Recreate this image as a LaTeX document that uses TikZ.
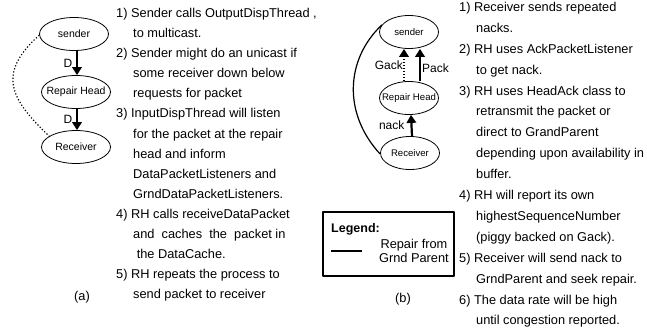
\documentclass[tikz,border=0pt]{standalone}
\usepackage{fontspec}
\setmainfont{Liberation Sans}
\usetikzlibrary{shapes.geometric,arrows.meta,positioning}
\tikzset{>={Triangle[length=8pt,width=9.5pt]}}
\tikzset{
  actor/.style={draw,ellipse,line width=0.8pt,minimum width=69pt,minimum height=33pt,inner sep=0pt,font=\fontsize{10.5}{12}\selectfont},
  smallactor/.style={actor,minimum width=59pt,font=\fontsize{9.6}{11}\selectfont},
  msg/.style={->,line width=2.2pt},
  grnd/.style={line width=1.2pt},
  msglbl/.style={font=\fontsize{12}{14}\selectfont,inner sep=0pt},
  notes/.style={anchor=north west,align=left,inner sep=0pt},
}
\newcommand{\ind}{\hspace*{17pt}}

\begin{document}
\begin{tikzpicture}[line join=round,x=1pt,y=-1pt]
\useasboundingbox (0,0) rectangle (647,332);
% (a) data path
\node[actor] (snda) at (74,34) {\makebox[0pt]{sender}};
\node[actor] (rha) at (76,92) {\makebox[0pt]{Repair Head}};
\node[actor] (rcva) at (76,147) {\makebox[0pt]{Receiver}};
\draw[msg] ([xshift=3pt]snda.south) -- ([xshift=1pt]rha.north) node[msglbl,midway,left=3.5pt] {D};
\draw[msg] ([xshift=1pt]rha.south) -- ([xshift=1pt]rcva.north) node[msglbl,midway,left=3.5pt] {D};
\draw[grnd,dotted] (snda.182) .. controls +(-42,38) and +(-40,-38) .. (rcva.158);
\node[notes,font=\fontsize{12.8}{20.1}\selectfont] (stepsa) at (116,8) {1) Sender calls OutputDispThread ,\\
\ind to multicast.\\
2) Sender might do an unicast if\\
\ind some receiver down below\\
\ind requests for packet\\
3) InputDispThread will listen\\
\ind for the packet at the repair\\
\ind head and inform\\
\ind DataPacketListeners and\\
\ind GrndDataPacketListeners.\\
4) RH calls receiveDataPacket\\
\ind and\ \ caches\ \ the\ \ packet in\\
\ind\ the DataCache.\\
5) RH repeats the process to\\
\ind send packet to receiver};
\node[font=\fontsize{12.8}{14}\selectfont] (capa) at (82,297) {(a)};

% (b) repair path
\node[smallactor] (sndb) at (409,32) {\makebox[0pt]{sender}};
\node[smallactor] (rhb) at (409,98) {\makebox[0pt]{Repair Head}};
\node[smallactor] (rcvb) at (410,153) {\makebox[0pt]{Receiver}};
\draw[msg,line cap=butt,dash pattern=on 1.5pt off 1.5pt] ([xshift=-5pt]rhb.north) -- ([xshift=-5pt]sndb.south) node[msglbl,midway,left=0pt] {Gack};
\draw[msg] ([xshift=11pt]rhb.north) -- ([xshift=11pt]sndb.south) node[msglbl,pos=0.4,right=1pt] {Pack};
\draw[msg] ([xshift=2pt]rcvb.north) -- ([xshift=2pt]rhb.south) node[msglbl,midway,left=6pt] {nack};
\draw[grnd] (sndb.165) .. controls +(-37,35) and +(-37,-40) .. (rcvb.182);
\node[draw,line width=2pt,minimum width=131pt,minimum height=64pt,inner sep=0pt] (legend) at (388.5,244) {};
\node[anchor=north west,inner sep=0pt,font=\bfseries\fontsize{12.5}{14}\selectfont] (legtitle) at ([shift={(9,12)}]legend.north west) {Legend:};
\node[anchor=east,align=center,inner sep=0pt,font=\fontsize{12.8}{14.5}\selectfont] (legtext) at ([shift={(-6,7)}]legend.east) {Repair from\\Grnd Parent};
\coordinate (lgA) at ([shift={(9,7)}]legend.west);
\coordinate (lgB) at ([shift={(40,7)}]legend.west);
\draw[grnd] (lgA) -- (lgB);
\node[notes,font=\fontsize{12.8}{20.9}\selectfont] (stepsb) at (459,2) {1) Receiver sends repeated\\
\ind nacks.\\
2) RH uses AckPacketListener\\
\ind to get nack.\\
3) RH uses HeadAck class to\\
\ind retransmit the packet or\\
\ind direct to GrandParent\\
\ind depending upon availability in\\
\ind buffer.\\
4) RH will report its own\\
\ind highestSequenceNumber\\
\ind (piggy backed on Gack).\\
5) Receiver will send nack to\\
\ind GrndParent and seek repair.\\
6) The data rate will be high\\
\ind until congestion reported.};
\node[font=\fontsize{12.8}{14}\selectfont] (capb) at (403,299) {(b)};
\end{tikzpicture}
\end{document}
